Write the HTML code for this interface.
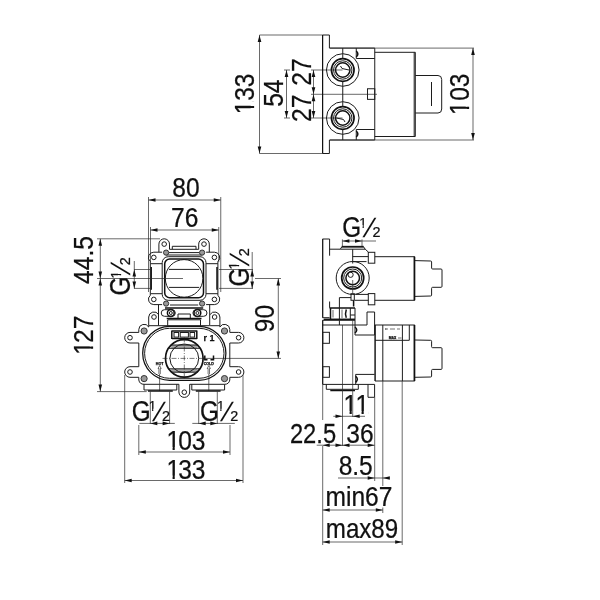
<!DOCTYPE html>
<html><head><meta charset="utf-8"><title>Drawing</title>
<style>
html,body{margin:0;padding:0;background:#fff}
svg{display:block}
text{font-family:"Liberation Sans",sans-serif;fill:#111;stroke:#111;stroke-width:.25}
svg{will-change:transform;filter:grayscale(1)}
.b{fill:none;stroke:#1c1c1c;stroke-width:1}
.bf{fill:#fff;stroke:#1c1c1c;stroke-width:1}
.k{fill:none;stroke:#111;stroke-width:1.5}
.kk{fill:none;stroke:#111;stroke-width:1.7}
.sf{fill:#999;stroke:#333;stroke-width:1}
.g{fill:#aaa;stroke:none}
.dd{fill:none;stroke:#222;stroke-width:.6;stroke-dasharray:5 1.5 1 1.5}
.a2{fill:none;stroke:#111;stroke-width:.6}
.m{fill:none;stroke:#111;stroke-width:1.25}
.kf{fill:#fff;stroke:#111;stroke-width:1.2}
.d{fill:none;stroke:#2a2a2a;stroke-width:.7}
.sl{stroke:none}
.a{fill:#111;stroke:none}
</style></head><body>
<svg width="600" height="600" viewBox="0 0 600 600">
<rect width="600" height="600" fill="#fff"/>
<clipPath id="cg"><path clip-rule="evenodd" d="M-5 -20H20V5H-5ZM0 -2.6H3.646V1.5H0ZM4.928 -2.6H9V1.5H4.928Z"/></clipPath>
<path class="d" d="M259.5 35L322.5 35"/>
<path class="d" d="M259.5 153.5L322.5 153.5"/>
<path class="d" d="M259.5 35L259.5 153.5"/>
<polygon class="a" points="259.5,35 257.7,42 261.3,42"/>
<polygon class="a" points="259.5,153.5 257.7,146.5 261.3,146.5"/>
<clipPath id="c1"><path clip-rule="evenodd" d="M-200 -60H200V60H-200ZM-21.66 -3.28H-15.61V1.64H-21.66ZM-13.20 -3.28H-8.01V1.64H-13.20Z"/></clipPath>
<text transform="translate(254 94) rotate(-90) scale(0.9 1)" font-size="27.3" x="-22.47 -7.59 7.59" clip-path="url(#c1)">133</text>
<path class="d" d="M286.5 70L286.5 118"/>
<path class="d" d="M284 70L290 70"/>
<path class="d" d="M284 118L290 118"/>
<polygon class="a" points="286.5,70 284.7,77 288.3,77"/>
<polygon class="a" points="286.5,118 284.7,111 288.3,111"/>
<text transform="translate(282.5 93.2) rotate(-90) scale(0.9 1)" font-size="27.3" x="-15.18 0.00">54</text>
<path class="d" d="M313.5 70L313.5 118"/>
<path class="d" d="M311 70L342.5 70"/>
<path class="d" d="M311 118L342.5 118"/>
<path class="d" d="M311 94.3L377 94.3"/>
<polygon class="a" points="313.5,70 311.7,77 315.3,77"/>
<polygon class="a" points="313.5,94.3 311.7,87.3 315.3,87.3"/>
<polygon class="a" points="313.5,94.3 311.7,101.3 315.3,101.3"/>
<polygon class="a" points="313.5,118 311.7,111 315.3,111"/>
<text transform="translate(311 72.1) rotate(-90) scale(0.9 1)" font-size="27.3" x="-15.18 0.00">27</text>
<text transform="translate(311 108.3) rotate(-90) scale(0.9 1)" font-size="27.3" x="-15.18 0.00">27</text>
<path class="b" d="M329.4 48.1V35H322.5M322.5 153.5H329.4V140"/>
<path class="m" d="M322.6 35L322.6 153.5"/>
<path class="b" d="M329.4 48.1H374.75V140H329.4"/>
<circle class="b" cx="342.75" cy="70" r="16.3"/>
<circle class="kk" cx="342.75" cy="70" r="11.3"/>
<circle class="b" cx="342.75" cy="70" r="9.2"/>
<circle class="k" cx="342.75" cy="70" r="7.2"/>
<circle class="b" cx="342.75" cy="118" r="16.3"/>
<circle class="kk" cx="342.75" cy="118" r="11.3"/>
<circle class="b" cx="342.75" cy="118" r="9.2"/>
<circle class="k" cx="342.75" cy="118" r="7.2"/>
<path class="b" d="M342.75 48.1L342.75 58.5"/>
<path class="b" d="M342.75 81.5L342.75 106.5"/>
<path class="b" d="M342.75 129.5L342.75 140"/>
<path class="b" d="M340.5 66L342 68.5L349 70"/>
<path class="b" d="M345 122L343.5 119.5L336.5 118"/>
<path class="b" d="M356.25 48.1L356.25 58.5"/>
<path class="b" d="M356.25 58.5L374.75 58.5"/>
<path class="b" d="M356.25 140L356.25 129.5"/>
<path class="b" d="M356.25 129.5L374.75 129.5"/>
<path class="k" d="M356.25 51Q359.5 54 356.25 57"/>
<path class="k" d="M356.25 137Q359.5 134 356.25 131"/>
<rect class="b" x="367.5" y="88.75" width="7.25" height="10.6"/>
<path class="d" d="M330 48.1L474 48.1"/>
<path class="d" d="M330 140L474 140"/>
<path class="d" d="M473 48.1L473 140"/>
<polygon class="a" points="473,48.1 471.2,55.1 474.8,55.1"/>
<polygon class="a" points="473,140 471.2,133 474.8,133"/>
<clipPath id="c2"><path clip-rule="evenodd" d="M-200 -60H200V60H-200ZM-22.66 -3.28H-16.61V1.64H-22.66ZM-14.20 -3.28H-9.01V1.64H-14.20Z"/></clipPath>
<text transform="translate(469 94) rotate(-90) scale(0.9 1)" font-size="27.3" x="-23.47 -7.59 7.59" clip-path="url(#c2)">103</text>
<path class="b" d="M374.75 52.3H415.3V136.5H374.75"/>
<path class="b" d="M414.2 52.3L414.2 136.5"/>
<path class="b" d="M415.3 75.5H438Q441.7 75.5 441.7 79.5V109Q441.7 113 438 113H415.3"/>
<path class="b" d="M431.5 82L431.5 106"/>
<path class="d" d="M148.5 200L220.75 200"/>
<polygon class="a" points="148.5,200 155.5,198.2 155.5,201.8"/>
<polygon class="a" points="220.75,200 213.75,198.2 213.75,201.8"/>
<path class="d" d="M148.5 197L148.5 292"/>
<path class="d" d="M220.75 197L220.75 292"/>
<text transform="translate(186 196.7) scale(0.9 1)" font-size="27.3" x="-15.18 0.00">80</text>
<path class="d" d="M150.5 230L218.75 230"/>
<polygon class="a" points="150.5,230 157.5,228.2 157.5,231.8"/>
<polygon class="a" points="218.75,230 211.75,228.2 211.75,231.8"/>
<path class="d" d="M150.5 227L150.5 262"/>
<path class="d" d="M218.75 227L218.75 262"/>
<text transform="translate(184.7 226.6) scale(0.9 1)" font-size="27.3" x="-15.18 0.00">76</text>
<path class="d" d="M100.3 238.8L100.3 391.6"/>
<path class="d" d="M97 238.8L160 238.8"/>
<path class="d" d="M97 278.5L150 278.5"/>
<path class="d" d="M97 391.6L146.7 391.6"/>
<polygon class="a" points="100.3,238.8 98.5,245.8 102.1,245.8"/>
<polygon class="a" points="100.3,278.5 98.5,271.5 102.1,271.5"/>
<polygon class="a" points="100.3,278.5 98.5,285.5 102.1,285.5"/>
<polygon class="a" points="100.3,391.6 98.5,384.6 102.1,384.6"/>
<text transform="translate(93 260) rotate(-90) scale(0.9 1)" font-size="27.3" x="-26.57 -11.38 3.80 11.38">44.5</text>
<clipPath id="c3"><path clip-rule="evenodd" d="M-200 -60H200V60H-200ZM-19.86 -3.28H-13.81V1.64H-19.86ZM-11.40 -3.28H-6.21V1.64H-11.40Z"/></clipPath>
<text transform="translate(93 336.2) rotate(-90) scale(0.9 1)" font-size="27.3" x="-20.67 -7.59 7.59" clip-path="url(#c3)">127</text>
<path class="d" d="M134.3 261L134.3 288.5"/>
<path class="d" d="M134 269.5L150 269.5"/>
<path class="d" d="M134 288.4L150 288.4"/>
<polygon class="a" points="134.3,269.5 132.5,276.5 136.1,276.5"/>
<polygon class="a" points="134.3,288.4 132.5,281.4 136.1,281.4"/>
<g transform="translate(130 294.5) rotate(-90)"><text transform="translate(-1.1 0) scale(.85 1)" font-size="28.6">G</text><text transform="translate(15.9 -9.4) scale(.93 1)" font-size="14.5" clip-path="url(#cg)">1</text><text class="sl" transform="translate(19.1 0) skewX(-18.5)" font-size="26.7">/</text><text transform="translate(29.3 0) scale(.93 1)" font-size="15.5">2</text></g>
<path class="d" d="M252.2 252L252.2 288.5"/>
<path class="d" d="M219 269.5L253 269.5"/>
<path class="d" d="M219 288.4L253 288.4"/>
<polygon class="a" points="252.2,269.5 250.4,276.5 254,276.5"/>
<polygon class="a" points="252.2,288.4 250.4,281.4 254,281.4"/>
<g transform="translate(248.5 285.5) rotate(-90)"><text transform="translate(-1.1 0) scale(.85 1)" font-size="28.6">G</text><text transform="translate(15.9 -9.4) scale(.93 1)" font-size="14.5" clip-path="url(#cg)">1</text><text class="sl" transform="translate(19.1 0) skewX(-18.5)" font-size="26.7">/</text><text transform="translate(29.3 0) scale(.93 1)" font-size="15.5">2</text></g>
<path class="d" d="M278.3 278.5L278.3 358.4"/>
<path class="d" d="M255 278.5L281 278.5"/>
<path class="d" d="M206 358.4L281 358.4"/>
<polygon class="a" points="278.3,278.5 276.5,285.5 280.1,285.5"/>
<polygon class="a" points="278.3,358.4 276.5,351.4 280.1,351.4"/>
<text transform="translate(274.3 318.6) rotate(-90) scale(0.9 1)" font-size="27.3" x="-15.18 0.00">90</text>
<path class="b" d="M158.9 252.2V244.1A5.3 5.3 0 0 1 169.5 244.1V249.3"/>
<path class="b" d="M209.3 252.2V244.1A5.3 5.3 0 0 0 198.7 244.1V249.3"/>
<circle class="b" cx="164.2" cy="244.1" r="2.3"/>
<circle class="b" cx="204" cy="244.1" r="2.3"/>
<path class="b" d="M162.1 252.2H153.8A5.3 5.3 0 0 0 150.3 261.5L150.3 263.7H162.1"/>
<path class="b" d="M206.1 252.2H214.4A5.3 5.3 0 0 1 217.9 261.5L217.9 263.7H206.1"/>
<path class="b" d="M162.1 304.6H153.8A5.3 5.3 0 0 1 150.3 295.3L150.3 293.7H162.1"/>
<path class="b" d="M206.1 304.6H214.4A5.3 5.3 0 0 0 217.9 295.3L217.9 293.7H206.1"/>
<circle class="b" cx="153.8" cy="257.4" r="2.3"/>
<circle class="b" cx="214.4" cy="257.4" r="2.3"/>
<circle class="b" cx="153.8" cy="299.4" r="2.3"/>
<circle class="b" cx="214.4" cy="299.4" r="2.3"/>
<path class="b" d="M150.3 263.7V293.7"/>
<path class="b" d="M217.9 263.7V293.7"/>
<path class="k" d="M151.2 267V289.7"/>
<path class="k" d="M217 267V289.7"/>
<path class="b" d="M172.3 249.2V246.3H196V249.2"/>
<path class="b" d="M169.5 249.3L198.7 249.3"/>
<path class="b" d="M169 252.6L199.2 252.6"/>
<path class="b" d="M166 255L202.2 255"/>
<circle class="sf" cx="166.1" cy="252.6" r="2.6"/>
<circle class="sf" cx="166.1" cy="303.6" r="2.6"/>
<circle class="sf" cx="202.1" cy="252.6" r="2.6"/>
<circle class="sf" cx="202.1" cy="303.6" r="2.6"/>
<rect class="b" x="162.2" y="256.7" width="43.8" height="43.6" rx="6"/>
<rect class="k" x="164.7" y="259" width="38.8" height="38.8" rx="5"/>
<circle class="b" cx="184.1" cy="278.4" r="18.8"/>
<path class="b" d="M169 269.4L199.2 269.4"/>
<path class="b" d="M169 287.4L199.2 287.4"/>
<path class="d" d="M150.3 278.5L183 278.5"/>
<path class="b" d="M158.5 304.6V325.7H209.7V304.6"/>
<path class="b" d="M170 305L198.2 305"/>
<path class="k" d="M165 308L203.2 308"/>
<circle class="k" cx="170.8" cy="313" r="3.4"/>
<circle class="b" cx="170.8" cy="313" r="1.5"/>
<circle class="k" cx="197.4" cy="313" r="3.4"/>
<circle class="b" cx="197.4" cy="313" r="1.5"/>
<path class="b" d="M166 309.7H172A3.3 3.3 0 0 1 172 316.3H164.5A3.3 3.3 0 0 1 164.5 309.7H166"/>
<path class="b" d="M202.2 309.7H196.2A3.3 3.3 0 0 0 196.2 316.3H203.7A3.3 3.3 0 0 0 203.7 309.7H202.2"/>
<path class="b" d="M178 318.3V314H190.3V318.3"/>
<path class="k" d="M166.7 318.6L201.5 318.6"/>
<path class="b" d="M167.7 325.7V319.8H200.5V325.7"/>
<path class="b" d="M148.7 325.7V317A5.3 5.3 0 0 1 158.5 314.5"/>
<path class="b" d="M219.9 325.7V317A5.3 5.3 0 0 0 210.1 314.5"/>
<circle class="b" cx="154" cy="317" r="2.3"/>
<circle class="b" cx="214.6" cy="317" r="2.3"/>
<path class="b" d="M158.5 325.7H148.7L148.7 327A5.3 5.3 0 0 0 138.8 329.5V332.4H130A5.3 5.3 0 0 0 130 343H138.8V366.7H130A5.3 5.3 0 0 0 130 377.3H138.8V380A5.3 5.3 0 0 0 144 384.3H178.9V392A5.4 5.4 0 0 0 184.3 397.4"/>
<path class="b" d="M210.1 325.7H219.9L219.9 327A5.3 5.3 0 0 1 229.8 329.5V332.4H238.6A5.3 5.3 0 0 1 238.6 343H229.8V366.7H238.6A5.3 5.3 0 0 1 238.6 377.3H229.8V380A5.3 5.3 0 0 1 224.6 384.3H189.7V392A5.4 5.4 0 0 1 184.3 397.4"/>
<circle class="b" cx="130" cy="337.7" r="2.3"/>
<circle class="b" cx="238.6" cy="337.7" r="2.3"/>
<circle class="b" cx="130" cy="372" r="2.3"/>
<circle class="b" cx="238.6" cy="372" r="2.3"/>
<circle class="b" cx="184.3" cy="392.2" r="2.3"/>
<circle class="sf" cx="144.1" cy="331" r="3.1"/>
<circle class="sf" cx="144.1" cy="378.6" r="3.1"/>
<circle class="sf" cx="224.5" cy="331" r="3.1"/>
<circle class="sf" cx="224.5" cy="378.6" r="3.1"/>
<rect class="m" x="142.7" y="326.3" width="83.2" height="54" rx="27"/>
<rect class="b" x="144.6" y="328.3" width="79.4" height="50" rx="25"/>
<path class="g" d="M171.2 345H197.4V348.3H171.2Z M171.2 369H197.4V372.2H171.2Z"/>
<circle class="kk" cx="184.3" cy="358.4" r="18.8"/>
<circle class="b" cx="184.3" cy="358.4" r="14.4"/>
<path class="b" d="M168.5 348.3L200.1 348.3"/>
<path class="b" d="M168.5 368.8L200.1 368.8"/>
<path class="b" d="M171 345L197.6 345"/>
<path class="b" d="M171 372.2L197.6 372.2"/>
<path class="dd" d="M184.3 337.5L184.3 380.5"/>
<path class="dd" d="M162.5 358.4L206 358.4"/>
<path class="k" d="M171.8 330.5V339M196.8 330.5V339M172 331H197M172 338.6H197"/>
<rect class="b" x="174" y="332.5" width="4.6" height="4.6"/>
<rect class="b" x="180.2" y="332.5" width="8.2" height="4.6"/>
<rect class="b" x="190" y="332.5" width="4.6" height="4.6"/>
<text transform="translate(209 340.8) scale(1 1)" font-size="9" text-anchor="middle" font-weight="bold">r 1</text>
<text transform="translate(159.6 364.7) scale(1 1)" font-size="3.6" text-anchor="middle" font-weight="bold">HOT</text>
<text transform="translate(208.8 364.7) scale(1 1)" font-size="3.6" text-anchor="middle" font-weight="bold">COLD</text>
<path class="k" d="M204.8 355.5V359.8H207.5M210.5 359.8H213.5V355.5"/>
<path class="a2" d="M158.9 374V368.5H158L159.6 365.6L161.2 368.5H160.3V374"/>
<path class="d" d="M159.6 374L159.6 391"/>
<path class="a2" d="M208.1 374V368.5H207.2L208.8 365.6L210.4 368.5H209.5V374"/>
<path class="d" d="M208.8 374L208.8 391"/>
<path class="b" d="M144 384.3V390H176.8V384.3"/>
<path class="b" d="M224.6 384.3V390H191.8V384.3"/>
<path class="k" d="M148 391H172.8"/>
<path class="k" d="M220.6 391H195.8"/>
<path class="d" d="M150.3 391.5L150.3 424"/>
<path class="d" d="M169.6 391.5L169.6 424"/>
<path class="d" d="M139.3 423.4L174.8 423.4"/>
<polygon class="a" points="150.3,423.4 157.3,421.6 157.3,425.2"/>
<polygon class="a" points="169.6,423.4 162.6,421.6 162.6,425.2"/>
<g transform="translate(132.8 420.75)"><text transform="translate(-1.1 0) scale(.85 1)" font-size="28.6">G</text><text transform="translate(15.9 -9.4) scale(.93 1)" font-size="14.5" clip-path="url(#cg)">1</text><text class="sl" transform="translate(19.1 0) skewX(-18.5)" font-size="26.7">/</text><text transform="translate(29.3 0) scale(.93 1)" font-size="15.5">2</text></g>
<path class="d" d="M198.7 391.5L198.7 424"/>
<path class="d" d="M217.3 391.5L217.3 424"/>
<path class="d" d="M192.3 423.4L234.8 423.4"/>
<polygon class="a" points="198.7,423.4 205.7,421.6 205.7,425.2"/>
<polygon class="a" points="217.3,423.4 210.3,421.6 210.3,425.2"/>
<g transform="translate(201 420.75)"><text transform="translate(-1.1 0) scale(.85 1)" font-size="28.6">G</text><text transform="translate(15.9 -9.4) scale(.93 1)" font-size="14.5" clip-path="url(#cg)">1</text><text class="sl" transform="translate(19.1 0) skewX(-18.5)" font-size="26.7">/</text><text transform="translate(29.3 0) scale(.93 1)" font-size="15.5">2</text></g>
<path class="d" d="M138.8 425L138.8 455"/>
<path class="d" d="M230 425L230 455"/>
<path class="d" d="M138.8 452L230 452"/>
<polygon class="a" points="138.8,452 145.8,450.2 145.8,453.8"/>
<polygon class="a" points="230,452 223,450.2 223,453.8"/>
<clipPath id="c4"><path clip-rule="evenodd" d="M-200 -60H200V60H-200ZM-19.86 -3.28H-13.81V1.64H-19.86ZM-11.40 -3.28H-6.21V1.64H-11.40Z"/></clipPath>
<text transform="translate(185 450.2) scale(0.9 1)" font-size="27.3" x="-20.67 -7.59 7.59" clip-path="url(#c4)">103</text>
<path class="d" d="M124.7 375L124.7 483"/>
<path class="d" d="M243 375L243 483"/>
<path class="d" d="M124.7 480.5L243 480.5"/>
<polygon class="a" points="124.7,480.5 131.7,478.7 131.7,482.3"/>
<polygon class="a" points="243,480.5 236,478.7 236,482.3"/>
<clipPath id="c5"><path clip-rule="evenodd" d="M-200 -60H200V60H-200ZM-19.86 -3.28H-13.81V1.64H-19.86ZM-11.40 -3.28H-6.21V1.64H-11.40Z"/></clipPath>
<text transform="translate(185 478.7) scale(0.9 1)" font-size="27.3" x="-20.67 -7.59 7.59" clip-path="url(#c5)">133</text>
<path class="b" d="M329.6 255.7V239H322.5"/>
<path class="m" d="M322.7 239L322.7 317.7"/>
<path class="b" d="M329.6 301.5V307.8"/>
<path class="b" d="M329.6 249.2L340.3 249.2"/>
<path class="k" d="M341.7 246.6L363.7 246.6"/>
<path class="b" d="M340.3 249.2L341.7 247H363.7L365.2 249.2Z"/>
<path class="b" d="M365.2 249.2L368.3 252V252.3"/>
<path class="d" d="M342.4 239.4L342.4 246"/>
<path class="d" d="M362 239.4L362 246"/>
<path class="d" d="M342.4 241L376 241"/>
<polygon class="a" points="342.4,241 349.4,239.2 349.4,242.8"/>
<polygon class="a" points="362,241 355,239.2 355,242.8"/>
<g transform="translate(343.3 237.1)"><text transform="translate(-1.1 0) scale(.85 1)" font-size="28.6">G</text><text transform="translate(15.9 -9.4) scale(.93 1)" font-size="14.5" clip-path="url(#cg)">1</text><text class="sl" transform="translate(19.1 0) skewX(-18.5)" font-size="26.7">/</text><text transform="translate(29.3 0) scale(.93 1)" font-size="15.5">2</text></g>
<circle class="b" cx="352.7" cy="278" r="16.5"/>
<circle class="kk" cx="352.7" cy="278" r="11"/>
<circle class="b" cx="352.7" cy="278" r="9"/>
<circle class="k" cx="352.7" cy="278" r="6.8"/>
<circle class="b" cx="350.6" cy="274.8" r="2.6"/>
<path class="b" d="M352.7 249.2L352.7 263.5"/>
<path class="d" d="M352.7 280L352.7 293.7"/>
<rect class="b" x="368.3" y="252.3" width="6.5" height="10.9"/>
<rect class="b" x="368.3" y="293.6" width="6.5" height="11.2"/>
<path class="b" d="M352.7 256.6L368.3 256.6"/>
<path class="b" d="M352.7 261.6L366.5 261.6"/>
<path class="b" d="M355.5 294.4L368.3 294.4"/>
<path class="b" d="M355 300.3L368.3 300.3"/>
<path class="b" d="M374.8 256.7H414.8V300.3H374.8"/>
<path class="k" d="M414.3 256.7L414.3 300.3"/>
<path class="b" d="M415 260.6L430.6 261Q431.6 261 431.6 262V268Q431.6 269 432.6 269H441Q442 269 442 270V286.3Q442 287.3 441 287.3H432.6Q431.6 287.3 431.6 288.3V295Q431.6 296 430.6 296L415 296.4"/>
<rect class="b" x="351" y="293.7" width="3.3" height="6.6"/>
<path class="k" d="M353.6 300.3V306.5"/>
<path class="b" d="M339.4 307.8V297.6H351"/>
<path class="k" d="M329.6 308L355 308"/>
<path class="k" d="M323.7 319.3L355 319.3"/>
<path class="k" d="M330.5 308L330.5 319.3"/>
<path class="b" d="M339.4 308L339.4 319.3"/>
<path class="k" d="M346.3 309.5Q344.8 313.6 346.3 317.8"/>
<path class="b" d="M350.3 308L350.3 319.3"/>
<path class="b" d="M355 308L355 335"/>
<path class="b" d="M350.3 315L355 315"/>
<path class="d" d="M333 310L333 317.5"/>
<path class="d" d="M342 309.5L342 318"/>
<path class="b" d="M322.5 317.7H329.6"/>
<path class="b" d="M322.5 320.3L355 320.3"/>
<path class="b" d="M322.5 325L367 325"/>
<path class="m" d="M322.7 320.3L322.7 384.4"/>
<path class="b" d="M339.4 320.3L339.4 325"/>
<rect class="b" x="322.7" y="332.3" width="6.7" height="11"/>
<rect class="b" x="322.7" y="366.7" width="6.7" height="10.6"/>
<path class="b" d="M355 335H374.6"/>
<path class="k" d="M355 327Q358.5 330 355 333"/>
<path class="b" d="M367 325V312H374.6V335"/>
<path class="b" d="M355.7 384.4V374.4H374.6"/>
<path class="k" d="M355.7 376.2Q359 379.3 355.7 382.4"/>
<path class="b" d="M322.7 384.4L374.6 384.4"/>
<path class="b" d="M326.3 384.4V389.3H358.3V384.4"/>
<path class="k" d="M330.3 390.5L355 390.5"/>
<path class="b" d="M368 384.4V397.3H374.6V384.4"/>
<path class="b" d="M375 325H414.8V381H375Z"/>
<path class="k" d="M414.3 325L414.3 381"/>
<path class="b" d="M375.2 325L375.2 381"/>
<path class="b" d="M409.3 325L409.3 340.3"/>
<path class="b" d="M375 340.3L409.3 340.3"/>
<path class="b" d="M382.8 325L382.8 381"/>
<path class="b" d="M402.4 325L402.4 381"/>
<path class="b" d="M415 340L430.6 340.3Q431.6 340.3 431.6 341.3V346.7Q431.6 347.7 432.6 347.7H441Q442 347.7 442 348.7V368.4Q442 369.4 441 369.4H432.6Q431.6 369.4 431.6 370.4V376Q431.6 377 430.6 377L415 377.3"/>
<path class="a2" d="M385 329H388M390 329H395M397 329H400"/>
<path class="a" d="M385 329l1.2 -.7v1.4Z"/>
<text transform="translate(392.5 339.3) scale(1 1)" font-size="3.4" text-anchor="middle" font-weight="bold">MAX</text>
<path class="a2" d="M398 338H401.5"/>
<path class="d" d="M322.7 384.4L322.7 420"/>
<path class="d" d="M322.7 446L322.7 545"/>
<path class="d" d="M342.5 325L342.5 446"/>
<path class="d" d="M352.7 320.3L352.7 417"/>
<path class="d" d="M374.7 397.3L374.7 481"/>
<path class="d" d="M382.8 381L382.8 486"/>
<path class="d" d="M382.8 507.5L382.8 513"/>
<path class="d" d="M402.2 381L402.2 545"/>
<path class="d" d="M333.3 416.3L365 416.3"/>
<polygon class="a" points="342.5,416.3 335.5,414.5 335.5,418.1"/>
<polygon class="a" points="352.7,416.3 359.7,414.5 359.7,418.1"/>
<clipPath id="c6"><path clip-rule="evenodd" d="M-200 -60H200V60H-200ZM-13.16 -3.28H-7.12V1.64H-13.16ZM-4.71 -3.28H0.49V1.64H-4.71ZM0.12 -3.28H6.16V1.64H0.12ZM8.58 -3.28H13.77V1.64H8.58Z"/></clipPath>
<text transform="translate(356 414.2) scale(0.9 1)" font-size="27.3" x="-13.98 -0.70" clip-path="url(#c6)">11</text>
<path class="d" d="M316.7 445.2L374.5 445.2"/>
<polygon class="a" points="322.7,445.2 329.7,443.4 329.7,447"/>
<polygon class="a" points="342.5,445.2 335.5,443.4 335.5,447"/>
<polygon class="a" points="342.5,445.2 349.5,443.4 349.5,447"/>
<polygon class="a" points="374.7,445.2 367.7,443.4 367.7,447"/>
<text transform="translate(313 442.6) scale(0.87 1)" font-size="27.3" x="-26.57 -11.38 3.80 11.38">22.5</text>
<text transform="translate(360 442.6) scale(0.9 1)" font-size="27.3" x="-15.18 0.00">36</text>
<path class="d" d="M338 478L389.5 478"/>
<polygon class="a" points="374.7,478 367.7,476.2 367.7,479.8"/>
<polygon class="a" points="382.8,478 389.8,476.2 389.8,479.8"/>
<text transform="translate(355.7 474.5) scale(0.9 1)" font-size="27.3" x="-18.98 -3.79 3.79">8.5</text>
<path class="d" d="M322.7 510L382.8 510"/>
<polygon class="a" points="322.7,510 329.7,508.2 329.7,511.8"/>
<polygon class="a" points="382.8,510 375.8,508.2 375.8,511.8"/>
<text transform="translate(359 506.2) scale(0.9 1)" font-size="27.3" x="-37.18 -14.44 -8.37 6.81 21.99">min67</text>
<path class="d" d="M322.7 542L402.2 542"/>
<polygon class="a" points="322.7,542 329.7,540.2 329.7,543.8"/>
<polygon class="a" points="402.2,542 395.2,540.2 395.2,543.8"/>
<text transform="translate(362 538.2) scale(0.885 1)" font-size="27.3" x="-40.97 -18.23 -3.05 10.60 25.79">max89</text>
</svg>
</body></html>
